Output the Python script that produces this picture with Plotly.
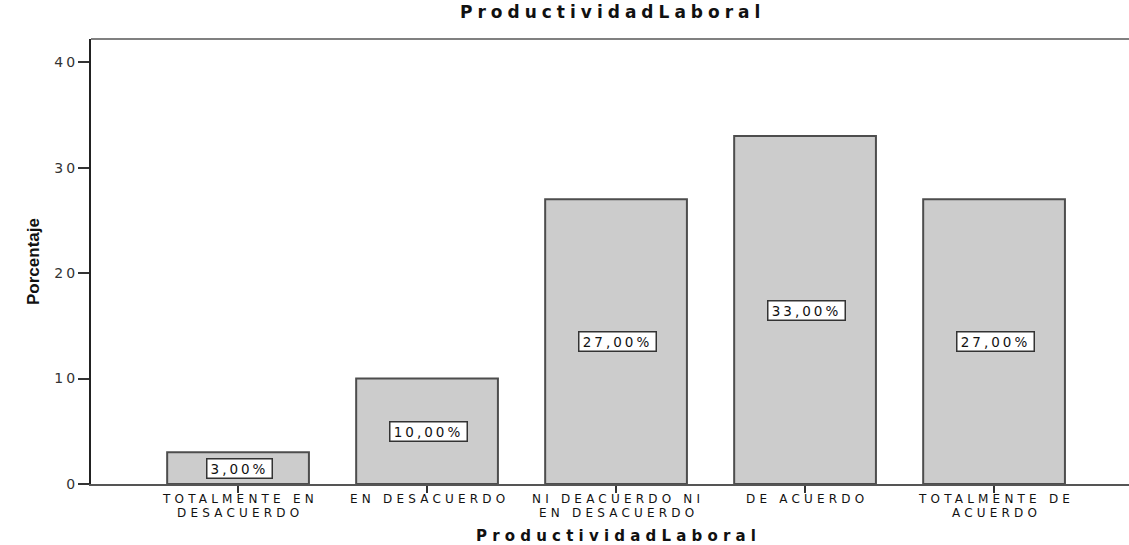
import plotly.graph_objects as go

categorias = [
    "TOTALMENTE EN\nDESACUERDO",
    "EN DESACUERDO",
    "NI DEACUERDO NI\nEN DESACUERDO",
    "DE ACUERDO",
    "TOTALMENTE DE\nACUERDO",
]
porcentajes = [3.0, 10.0, 27.0, 33.0, 27.0]
etiquetas = ["3,00%", "10,00%", "27,00%", "33,00%", "27,00%"]
marcas_y = [0, 10, 20, 30, 40]

FONT = "DejaVu Sans, Liberation Sans, Arial, sans-serif"
SANS = "Liberation Sans, Arial, sans-serif"


def wide(text, spacing):
    """Wrap text in a span with extra letter spacing."""
    return f'<span style="letter-spacing:{spacing}px">{text}</span>'


def wide_tick(text, spacing):
    """Space out every character except the last (keeps right edge flush)."""
    return wide(text[:-1], spacing) + text[-1]


pos = list(range(len(categorias)))

fig = go.Figure(
    go.Bar(
        x=pos,
        y=porcentajes,
        width=0.75,
        marker=dict(color="#cccccc", line=dict(color="#4d4d4d", width=2)),
        hoverinfo="skip",
    )
)

# value boxes at half height of each bar
for xi, v, t in zip(pos, porcentajes, etiquetas):
    fig.add_annotation(
        x=xi, y=v / 2, xref="x", yref="y", text=wide(t, 3), showarrow=False,
        xshift=1.5,
        font=dict(family=FONT, size=13.5, color="#111111"),
        width=12 * len(t) + 2, align="center",
        bgcolor="white", bordercolor="#333333", borderwidth=1.5, borderpad=1,
    )

# category labels, one annotation per line
for xi, lab in zip(pos, categorias):
    for j, line in enumerate(lab.split("\n")):
        fig.add_annotation(
            x=xi, y=0, xref="x", yref="paper", yanchor="middle",
            yshift=-14.5 - 14 * j, xshift=2,
            text=wide(line, 4.2), showarrow=False,
            font=dict(family=FONT, size=12, color="#111111"),
        )

# chart title and axis titles
fig.add_annotation(
    x=0.5, y=1, xref="paper", yref="paper", yanchor="middle", yshift=27,
    text=wide("<b>ProductividadLaboral</b>", 5), xshift=2.5,
    showarrow=False, font=dict(family=FONT, size=17, color="#111111"),
)
fig.add_annotation(
    x=2, y=0, xref="x", yref="paper", yanchor="middle", yshift=-52,
    text=wide("<b>ProductividadLaboral</b>", 5.2), xshift=2.5,
    showarrow=False, font=dict(family=FONT, size=15, color="#111111"),
)
fig.add_annotation(
    x=0, y=0.5, xref="paper", yref="paper", xshift=-69,
    text="<b>Porcentaje</b>",
    textangle=-90, showarrow=False, font=dict(family=SANS, size=17, color="#111111"),
)

# grey frame line along the top of the plot area
fig.add_shape(
    type="line", xref="paper", yref="paper", x0=0, x1=1, y0=1, y1=1,
    line=dict(color="#808080", width=2),
)

fig.update_layout(
    width=1129, height=545,
    margin=dict(l=91, r=0, t=39, b=61),
    plot_bgcolor="white", paper_bgcolor="white",
    showlegend=False,
    xaxis=dict(
        range=[-0.778, 4.714],
        tickmode="array", tickvals=pos, showticklabels=False,
        ticks="outside", ticklen=7, tickwidth=2, tickcolor="#333333",
        showline=True, linecolor="#555555", linewidth=2,
        showgrid=False, zeroline=False, fixedrange=True,
    ),
    yaxis=dict(
        range=[0, 42.2],
        tickmode="array", tickvals=marcas_y,
        ticktext=[str(v) if v == 0 else wide_tick(str(v), 3) for v in marcas_y],
        tickfont=dict(family=FONT, size=14, color="#333333"),
        ticks="outside", ticklen=11, tickwidth=2, tickcolor="#333333",
        showline=True, linecolor="#222222", linewidth=2,
        showgrid=False, zeroline=False, fixedrange=True,
    ),
)

fig.write_html("out.html")
